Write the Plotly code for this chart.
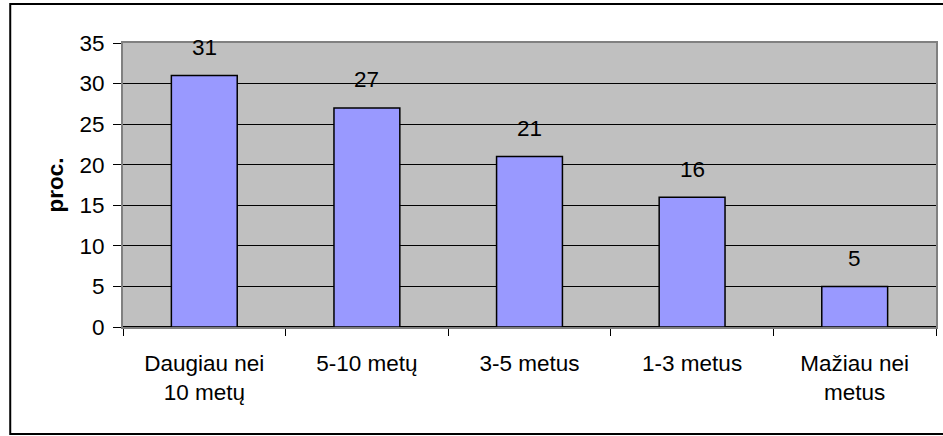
import plotly.graph_objects as go

categories = ["Daugiau nei<br>10 metų", "5-10 metų", "3-5 metus", "1-3 metus", "Mažiau nei<br>metus"]
values = [31, 27, 21, 16, 5]
y_ticks = [0, 5, 10, 15, 20, 25, 30, 35]
y_title = "proc."

FONT = "Liberation Sans, Arial, sans-serif"
FS = 22.5

fig = go.Figure()
fig.add_trace(go.Bar(
    x=categories, y=values,
    marker=dict(color="#9999FF", line=dict(color="black", width=1.5)),
    hoverinfo="skip",
))

for c, v in zip(categories, values):
    fig.add_annotation(x=c, y=v, text=str(v), showarrow=False, yshift=28,
                       font=dict(family=FONT, size=FS, color="black"))

# outer chart border
fig.add_shape(type="rect", xref="paper", yref="paper",
              x0=-0.1387, x1=1.02, y0=-0.3768, y1=1.1373,
              line=dict(color="black", width=2), layer="below")

fig.update_layout(
    width=943, height=436, autosize=False,
    margin=dict(l=123, r=5, t=43, b=109),
    paper_bgcolor="white",
    plot_bgcolor="#C0C0C0",
    bargap=0.595,
    showlegend=False,
    font=dict(family=FONT, size=FS, color="black"),
)
fig.update_xaxes(
    type="category",
    showline=True, linecolor="#808080", linewidth=2, mirror=True,
    ticks="outside", tickson="boundaries", ticklen=7, tickcolor="black", tickwidth=1,
    showgrid=False,
    tickfont=dict(family=FONT, size=FS, color="black"),
    ticklabelstandoff=15,
)
fig.update_yaxes(
    range=[0, 35], tickvals=y_ticks,
    showline=True, linecolor="#808080", linewidth=2, mirror=True,
    ticks="outside", ticklen=8, tickcolor="black", tickwidth=1,
    showgrid=True, gridcolor="black", gridwidth=1,
    zeroline=True, zerolinecolor="black", zerolinewidth=2,
    tickfont=dict(family=FONT, size=FS, color="black"),
    ticklabelstandoff=4,
    title=dict(text="<b>" + y_title + "</b>", standoff=10,
               font=dict(family=FONT, size=FS, color="black")),
)

fig.write_html("out.html", config={"displayModeBar": False},
               post_script="document.body.style.margin='0';document.body.style.overflow='hidden';")
